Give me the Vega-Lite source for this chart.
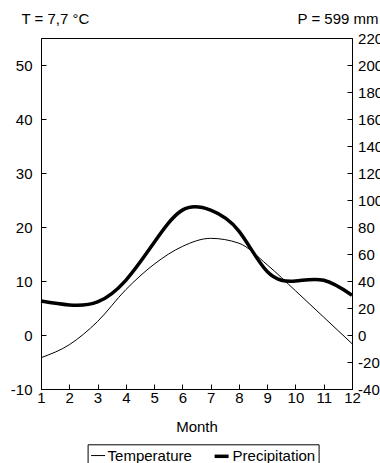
{
  "$schema": "https://vega.github.io/schema/vega-lite/v6.json",
  "autosize": {"type": "none"},
  "padding": {"left": 41, "top": 38, "right": 28, "bottom": 74},
  "width": 311,
  "height": 351,
  "config": {
    "font": "Liberation Sans",
    "view": {"stroke": "black", "strokeWidth": 1},
    "axis": {
      "grid": false,
      "domainColor": "black",
      "domainWidth": 1,
      "tickColor": "black",
      "tickSize": -5,
      "tickWidth": 1,
      "labelColor": "black",
      "labelFontSize": 15,
      "titleColor": "black",
      "titleFontSize": 15,
      "titleFontWeight": "normal"
    },
    "legend": {
      "orient": "none",
      "legendX": 46.6,
      "legendY": 406.3,
      "direction": "horizontal",
      "strokeColor": "black",
      "padding": 3,
      "labelFontSize": 15,
      "labelColor": "black",
      "symbolType": "stroke",
      "symbolSize": 196,
      "symbolStrokeColor": "black",
      "labelOffset": 2,
      "columnPadding": 15
    }
  },
  "data": {
    "values": [
      {"month": 1, "temperature": -4.2, "precipitation": 25.2},
      {"month": 2, "temperature": -1.8, "precipitation": 22.3},
      {"month": 3, "temperature": 2.5, "precipitation": 24.5},
      {"month": 4, "temperature": 8.4, "precipitation": 40.5},
      {"month": 5, "temperature": 13.1, "precipitation": 68.5},
      {"month": 6, "temperature": 16.4, "precipitation": 92.5},
      {"month": 7, "temperature": 17.9, "precipitation": 92.5},
      {"month": 8, "temperature": 17.0, "precipitation": 77},
      {"month": 9, "temperature": 13.0, "precipitation": 47},
      {"month": 10, "temperature": 8.2, "precipitation": 40},
      {"month": 11, "temperature": 3.3, "precipitation": 40.5},
      {"month": 12, "temperature": -1.6, "precipitation": 29.5}
    ]
  },
  "encoding": {
    "x": {
      "field": "month",
      "type": "quantitative",
      "scale": {"domain": [1, 12], "nice": false, "zero": false},
      "axis": {
        "values": [1, 2, 3, 4, 5, 6, 7, 8, 9, 10, 11, 12],
        "title": "Month",
        "labelPadding": 6,
        "titlePadding": 14,
        "labelFlush": false
      }
    }
  },
  "layer": [
    {
      "layer": [
        {
          "mark": {"type": "line", "interpolate": "monotone", "color": "black"},
          "encoding": {
            "y": {
              "field": "temperature",
              "type": "quantitative",
              "scale": {"domain": [-10, 55], "nice": false, "zero": false},
              "axis": {
                "values": [-10, 0, 10, 20, 30, 40, 50],
                "labelExpr": "replace(datum.label, '\u2212', '-')",
                "title": "T = 7,7 °C",
                "titleAngle": 0,
                "titleAlign": "left",
                "titleBaseline": "alphabetic",
                "titleX": -20,
                "titleY": -15,
                "labelPadding": 14
              }
            },
            "strokeWidth": {
              "datum": "Temperature",
              "type": "nominal",
              "scale": {"type": "point", "domain": ["Temperature", "Precipitation"], "range": [1, 3.5], "padding": 0},
              "legend": {"title": null}
            }
          }
        },
        {
          "mark": {"type": "rule", "color": "black", "strokeWidth": 1.5},
          "encoding": {"y": {"datum": 0, "type": "quantitative"}}
        }
      ]
    },
    {
      "mark": {"type": "line", "interpolate": "natural", "color": "black"},
      "encoding": {
        "y": {
          "field": "precipitation",
          "type": "quantitative",
          "scale": {"domain": [-40, 220], "nice": false, "zero": false},
          "axis": {
            "orient": "right",
            "values": [-40, -20, 0, 20, 40, 60, 80, 100, 120, 140, 160, 180, 200, 220],
            "labelExpr": "replace(datum.label, '\u2212', '-')",
            "title": "P = 599 mm",
            "titleAngle": 0,
            "titleAlign": "right",
            "titleBaseline": "alphabetic",
            "titleX": 26,
            "titleY": -15,
            "labelPadding": 10.6
          }
        },
        "strokeWidth": {"datum": "Precipitation", "type": "nominal"}
      }
    }
  ],
  "resolve": {"scale": {"y": "independent"}}
}
